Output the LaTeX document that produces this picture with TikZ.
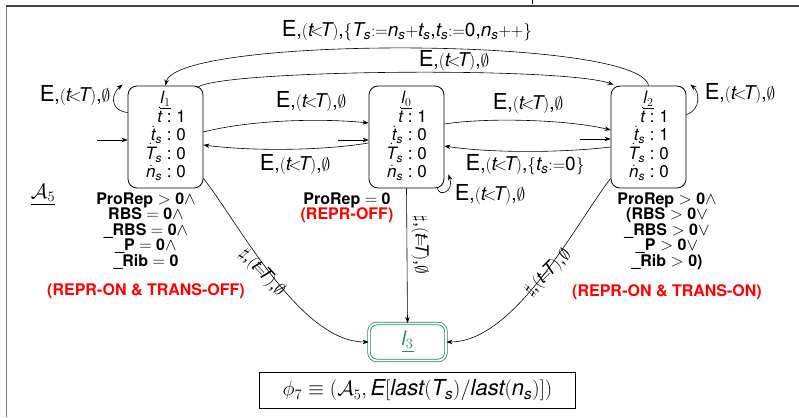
\documentclass[tikz,border=0pt]{standalone}
\usepackage{amsmath}
\usepackage[no-math]{fontspec}
\setmainfont{TeX Gyre Heros}
\usetikzlibrary{arrows.meta,calc}
\newcommand{\mi}[1]{\text{\itshape #1}}
\newcommand{\Elab}[1]{{\fontsize{22}{24}\selectfont E}{\fontsize{19}{21}\selectfont,$(\mi{t}\mkern-3mu{<}\mkern-3mu\mi{T})$,#1}}
\newcommand{\Hlab}{{\fontsize{18}{20}\selectfont$\sharp$,$(\mi{t}\mkern-4mu{=}\mkern-4mu\mi{T})$,$\emptyset$}}
\newcommand{\dv}[2]{$\smash{\dot{\mi{#1}}}#2$}
\definecolor{stgreen}{RGB}{30,140,85}
\begin{document}
\begin{tikzpicture}[x=1pt,y=-1pt,
  stbox/.style={draw, line width=0.8pt, rounded corners=9pt, minimum width=75pt, minimum height=102pt, inner sep=0pt,
    font=\fontsize{17}{18.5}\selectfont},
  edge/.style={-{Stealth[length=6pt,width=4.5pt]}, line width=0.6pt},
  cond/.style={align=center, font=\fontsize{16}{15.5}\selectfont\bfseries},
  redlab/.style={text=red, font=\fontsize{16}{18}\selectfont\bfseries},
  lab/.style={inner sep=0.5pt}]
\useasboundingbox (0,0) rectangle (799,417);
% frame
\draw[gray, line width=1.8pt] (6.5,417) -- (6.5,6);
\draw[black!75, line width=1.3pt] (5.6,6) -- (799,6);
\draw[line width=0.8pt] (532,0) -- (532,4);
% states
\node[stbox] (l1) at (165.5,137) {\begin{tabular}{@{}r@{\ :\ }l@{}}\multicolumn{2}{c}{\underline{$\mi{l}_{1}$}}\\ \dv{t}{} & 1\\ \dv{t}{_{\mi{s}}} & 0\\ \dv{T}{_{\mi{s}}} & 0\\ \dv{n}{_{\mi{s}}} & 0\end{tabular}};
\node[stbox] (l0) at (406.5,137) {\begin{tabular}{@{}r@{\ :\ }l@{}}\multicolumn{2}{c}{\underline{$\mi{l}_{0}$}}\\ \dv{t}{} & 1\\ \dv{t}{_{\mi{s}}} & 0\\ \dv{T}{_{\mi{s}}} & 0\\ \dv{n}{_{\mi{s}}} & 0\end{tabular}};
\node[stbox] (l2) at (648.5,137) {\begin{tabular}{@{}r@{\ :\ }l@{}}\multicolumn{2}{c}{\underline{$\mi{l}_{2}$}}\\ \dv{t}{} & 1\\ \dv{t}{_{\mi{s}}} & 1\\ \dv{T}{_{\mi{s}}} & 0\\ \dv{n}{_{\mi{s}}} & 0\end{tabular}};
\node[draw=stgreen, double, double distance=1.8pt, line width=0.8pt, rounded corners=8pt, minimum width=77pt, minimum height=37pt, text=stgreen, font=\fontsize{20}{22}\selectfont] (l3) at (407.5,342) {\underline{$\mi{l}_{3}$}};
% formula
\node[draw, line width=0.8pt, minimum width=316pt, minimum height=36pt, inner sep=0pt, font=\fontsize{22}{24}\selectfont] (phi) at (417.5,390.5) {$\phi_7 \equiv (\mathcal{A}_5, \mi{E}[\mi{last}(\mi{T}_{\mi{s}})/\mi{last}(\mi{n}_{\mi{s}})])$};
\node[font=\fontsize{20}{22}\selectfont] (aut) at (43,195) {\underline{$\mathcal{A}_5$}};
% initial arrows
\coordinate (i1) at (97,140);
\coordinate (i0) at (338,140);
\coordinate (i2) at (580,139);
\draw[edge] (i1) -- (l1.west |- i1);
\draw[edge] (i0) -- (l0.west |- i0);
\draw[edge] (i2) -- (l2.west |- i2);
% self loops
\draw[edge] ($(l1.north west)+(0,27)$) .. controls ($(l1.north west)+(-20,24)$) and ($(l1.north west)+(-15,7)$) .. ($(l1.north west)+(-5,-1)$);
\node[lab] (lp1) at (75,96) {\Elab{$\emptyset$}};
\draw[edge] ($(l2.north east)+(0,29)$) .. controls ($(l2.north east)+(15,24)$) and ($(l2.north east)+(13,6)$) .. ($(l2.north east)+(4,-1)$);
\node[lab] (lp2) at (740,94) {\Elab{$\emptyset$}};
\draw[edge] ($(l0.south east)+(-7,0)$) .. controls ($(l0.south east)+(-5,9)$) and ($(l0.south east)+(10,3)$) .. ($(l0.south east)+(4,-14)$);
\node[lab] (lp0) at (490,195) {\Elab{$\emptyset$}};
% top edges
\draw[edge] (l2.north) .. controls (640,36) and (175,36) .. (l1.north);
\node[lab] (lt) at (407,31) {\Elab{$\{\mi{T}_{\mi{s}}{:=}\mi{n}_{\mi{s}}{+}\mi{t}_{\mi{s}}$,$\mi{t}_{\mi{s}}{:=}$0,$\mi{n}_{\mi{s}}{+}{+}\}$}};
\draw[edge] ($(l1.north east)+(-6,2)$) .. controls (215,70) and (560,66) .. ($(l2.north west)+(3,-1)$);
\node[lab] (lt2) at (454,61) {\Elab{$\emptyset$}};
% middle edges
\draw[edge] ($(l1.east)+(0,-5)$) .. controls (250,120) and (320,118) .. ($(l0.west)+(0,-14)$);
\node[lab] (m1) at (311,102) {\Elab{$\emptyset$}};
\draw[edge] ($(l0.west)+(0,6)$) .. controls (320,151) and (250,151) .. ($(l1.east)+(0,8)$);
\node[lab] (m2) at (295,165) {\Elab{$\emptyset$}};
\draw[edge] ($(l0.east)+(0,-13)$) .. controls (490,117) and (570,120) .. ($(l2.west)+(0,-7)$);
\node[lab] (m3) at (528,104) {\Elab{$\emptyset$}};
\draw[edge] ($(l2.west)+(0,10)$) .. controls (560,153) and (490,153) .. ($(l0.east)+(0,9)$);
\node[lab] (m4) at (525,165) {\Elab{$\{\mi{t}_{\mi{s}}{:=}$0$\}$}};
% bottom edges
\draw[edge] ($(l1.south east)+(0,-10)$) .. controls (240,225) and (300,342) .. (l3.west);
\node[lab, rotate=-47] (b1) at (262,273) {\Hlab};
\draw[edge] (l0.south) -- (l3.north);
\node[lab, rotate=-90] (b0) at (420,245) {\Hlab};
\draw[edge] ($(l2.south west)+(0,-10)$) .. controls (575,225) and (515,342) .. (l3.east);
\node[lab, rotate=45] (b2) at (548,273) {\Hlab};
% conditions
\node[cond] (c1) at (146,231) {ProRep $>$ 0$\wedge$\\ RBS $=$ 0$\wedge$\\ \_RBS $=$ 0$\wedge$\\ \_P $=$ 0$\wedge$\\ \_Rib $=$ 0};
\node[redlab] (r1) at (146,291) {(REPR-ON \& TRANS-OFF)};
\node[cond] (c0) at (347,200) {ProRep $=$ 0};
\node[redlab] (r0) at (347,215) {(REPR-OFF)};
\node[cond] (c2) at (667,231) {ProRep $>$ 0$\wedge$\\ (RBS $>$ 0$\vee$\\ \_RBS $>$ 0$\vee$\\ \_P $>$ 0$\vee$\\ \_Rib $>$ 0)};
\node[redlab] (r2) at (667,292) {(REPR-ON \& TRANS-ON)};
\end{tikzpicture}
\end{document}
